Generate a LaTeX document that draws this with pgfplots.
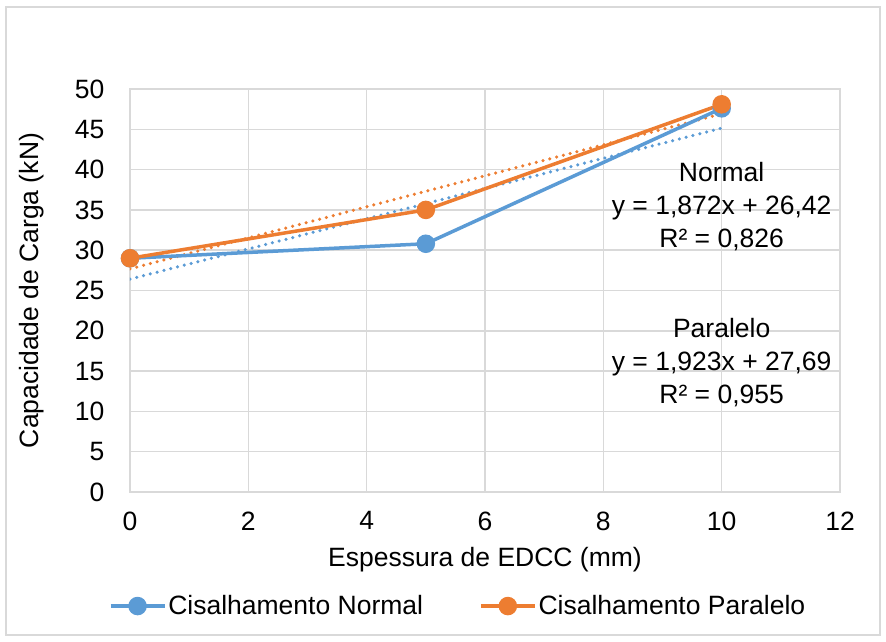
\documentclass[border=0pt]{standalone}
\usepackage{fontspec}
\setmainfont{Liberation Sans}
\usepackage{pgfplots}
\pgfplotsset{compat=1.18}
\definecolor{serA}{HTML}{5B9BD5}
\definecolor{serB}{HTML}{ED7D31}
\definecolor{gridc}{HTML}{D9D9D9}

\begin{document}
\begin{tikzpicture}[x=1pt,y=1pt]
\useasboundingbox (-130,-149) rectangle (756,492);
\draw[gridc, line width=1.5pt] (-124,485) rectangle (750,-143);
\begin{axis}[
    at={(0,0)}, anchor=south west,
    scale only axis, width=710pt, height=403pt,
    xmin=0, xmax=12, ymin=0, ymax=50,
    xtick={0,2,...,12}, ytick={0,5,...,50},
    grid=major,
    grid style={gridc, line width=1.5pt},
    axis line style={gridc, line width=1.5pt},
    tick style={draw=none},
    font=\fontsize{26.5}{31}\selectfont,
    /pgf/number format/assume math mode=true,
    xticklabel style={yshift=-16pt},
    yticklabel style={xshift=-22pt},
    xlabel={Espessura de EDCC (mm)},
    ylabel={Capacidade de Carga (kN)},
    xlabel style={at={(axis description cs:0.5,-0.169)}, anchor=center},
    ylabel style={at={(axis description cs:-0.138,0.5)}, anchor=center},
    legend columns=2,
    legend style={draw=none, fill=none, at={(axis description cs:0.462,-0.283)}, anchor=center,
        /tikz/every even column/.append style={column sep=54pt}},
    legend image code/.code={\draw[mark repeat=2, mark phase=2, #1] plot coordinates {(0pt,0pt) (27pt,0pt) (54pt,0pt)};},
]
% linhas de tendencia
\addplot[serA, line width=3.5pt, dash pattern=on 0pt off 7pt, line cap=round, forget plot]
    coordinates {(0,26.42) (10,45.14)};
\addplot[serB, line width=3.5pt, dash pattern=on 0pt off 7pt, line cap=round, forget plot]
    coordinates {(0,27.69) (10,46.92)};
% series
\addplot[serA, line width=3.5pt, mark=*, mark size=7.5pt, mark options={fill=serA, draw=serA}]
    coordinates {(0,29.0) (5,30.8) (10,47.6)};
\addlegendentry{Cisalhamento Normal}
\addplot[serB, line width=3.5pt, mark=*, mark size=7.5pt, mark options={fill=serB, draw=serB}]
    coordinates {(0,29.0) (5,35.0) (10,48.1)};
\addlegendentry{Cisalhamento Paralelo}
\node[align=center, font=\fontsize{26.5}{33}\selectfont] at (axis cs:10,35.4)
    {Normal\\y = 1,872x + 26,42\\R² = 0,826};
\node[align=center, font=\fontsize{26.5}{33}\selectfont] at (axis cs:10,16.1)
    {Paralelo\\y = 1,923x + 27,69\\R² = 0,955};
\end{axis}
\end{tikzpicture}
\end{document}
